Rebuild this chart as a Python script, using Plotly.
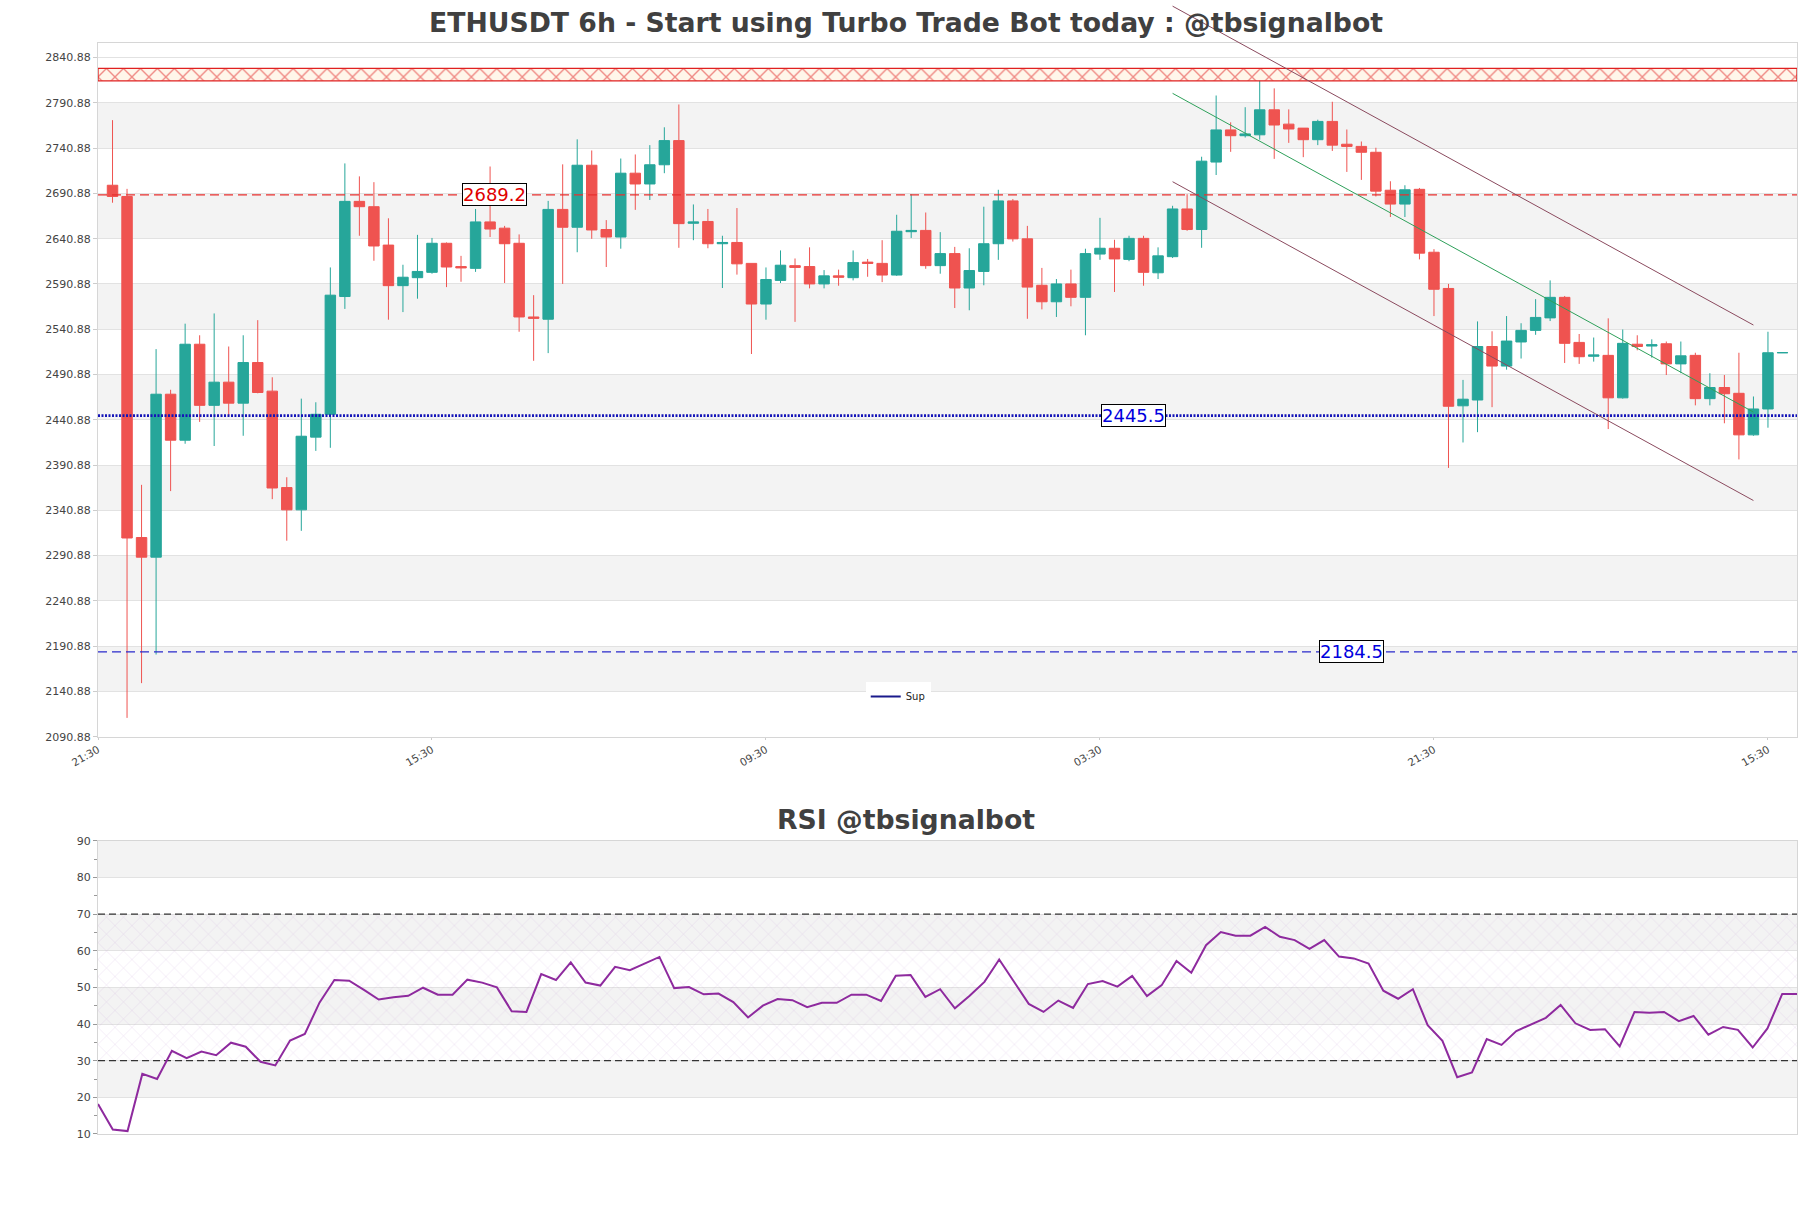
import plotly.graph_objects as go

# ---------------- data ----------------
opens = [2699.9, 2687.5, 2310.8, 2289.1, 2469.1, 2418.3, 2524.3, 2456.8, 2482.4, 2459.2,
         2504.1, 2472.5, 2366.0, 2341.4, 2421.7, 2446.9, 2577.0, 2682.1, 2676.2, 2633.8,
         2589.0, 2597.8, 2603.7, 2635.8, 2610.1, 2608.1, 2659.4, 2652.5, 2635.8, 2554.4,
         2551.9, 2673.2, 2653.5, 2722.0, 2651.0, 2642.7, 2713.2, 2701.3, 2722.5, 2749.2,
         2657.9, 2659.9, 2635.3, 2636.7, 2613.6, 2568.7, 2594.8, 2611.1, 2610.1, 2590.9,
         2599.8, 2597.8, 2615.0, 2613.6, 2600.7, 2648.6, 2650.0, 2611.1, 2624.4, 2586.4,
         2604.7, 2635.3, 2682.6, 2640.7, 2589.4, 2571.2, 2590.9, 2576.1, 2623.9, 2630.3,
         2618.0, 2641.2, 2603.2, 2621.0, 2673.7, 2651.0, 2725.5, 2761.0, 2754.6, 2755.6,
         2783.2, 2767.4, 2763.0, 2750.2, 2770.4, 2745.2, 2742.8, 2736.3, 2694.4, 2679.1,
         2695.4, 2625.9, 2585.9, 2456.3, 2462.7, 2521.8, 2500.2, 2526.8, 2539.6, 2553.4,
         2576.1, 2526.3, 2511.0, 2512.0, 2465.1, 2524.3, 2522.3, 2524.8, 2502.6, 2512.0,
         2464.2, 2476.5, 2470.1, 2424.2, 2452.8, 2514.9]
highs = [2771.8, 2695.9, 2369.0, 2518.9, 2474.0, 2547.0, 2534.2, 2558.3, 2521.8, 2534.2,
         2550.9, 2487.8, 2377.4, 2464.2, 2460.2, 2609.1, 2724.0, 2709.7, 2703.3, 2663.4,
         2612.1, 2645.1, 2641.7, 2636.7, 2621.9, 2673.7, 2720.6, 2655.0, 2645.6, 2578.5,
         2682.6, 2723.0, 2750.6, 2738.3, 2661.4, 2729.4, 2733.9, 2744.2, 2763.9, 2789.1,
         2678.7, 2673.7, 2644.1, 2674.7, 2613.6, 2609.1, 2627.9, 2619.0, 2631.3, 2606.2,
         2606.7, 2627.9, 2618.5, 2639.2, 2667.3, 2690.0, 2669.8, 2648.1, 2631.8, 2630.3,
         2676.2, 2694.9, 2684.6, 2655.0, 2608.6, 2596.3, 2606.7, 2629.8, 2663.9, 2639.7,
         2644.1, 2644.1, 2631.3, 2677.2, 2690.0, 2731.4, 2799.0, 2769.4, 2786.1, 2818.7,
         2806.9, 2783.7, 2763.0, 2772.3, 2792.1, 2761.5, 2748.2, 2741.3, 2704.3, 2699.9,
         2696.9, 2629.3, 2590.9, 2484.9, 2549.5, 2538.6, 2555.4, 2547.5, 2574.1, 2594.8,
         2577.6, 2535.6, 2531.7, 2552.9, 2540.6, 2534.2, 2529.7, 2527.3, 2527.3, 2514.9,
         2492.3, 2490.3, 2514.9, 2466.6, 2538.1, 2515.0]
lows = [2680.6, 2111.6, 2150.0, 2181.6, 2362.1, 2414.4, 2438.5, 2411.9, 2445.9, 2423.2,
        2470.1, 2353.2, 2307.3, 2318.2, 2406.5, 2409.9, 2563.3, 2644.1, 2616.5, 2551.4,
        2559.8, 2574.6, 2602.2, 2587.4, 2593.3, 2604.2, 2642.7, 2591.9, 2538.1, 2506.0,
        2514.5, 2590.9, 2625.9, 2640.7, 2609.6, 2629.8, 2672.7, 2683.6, 2713.2, 2630.8,
        2639.2, 2630.3, 2586.4, 2601.2, 2513.5, 2551.4, 2591.9, 2549.0, 2586.0, 2586.0,
        2588.9, 2594.8, 2598.8, 2592.9, 2599.8, 2641.7, 2607.6, 2602.2, 2564.3, 2561.8,
        2589.4, 2617.5, 2637.7, 2552.4, 2562.8, 2554.4, 2566.2, 2534.2, 2617.5, 2582.0,
        2616.0, 2588.9, 2596.3, 2619.5, 2649.6, 2630.8, 2711.2, 2736.8, 2752.6, 2750.2,
        2729.0, 2746.7, 2730.9, 2744.2, 2737.8, 2714.6, 2705.8, 2687.5, 2664.8, 2664.8,
        2618.0, 2555.4, 2387.7, 2415.8, 2427.2, 2454.8, 2496.2, 2508.5, 2534.7, 2549.9,
        2503.6, 2502.6, 2505.1, 2430.6, 2464.2, 2517.6, 2509.5, 2490.3, 2492.3, 2456.8,
        2456.8, 2437.0, 2397.1, 2423.2, 2432.1, 2514.9]
closes = [2687.5, 2310.3, 2289.1, 2469.1, 2418.3, 2524.3, 2456.8, 2482.4, 2459.2, 2504.1,
          2471.0, 2365.5, 2341.4, 2422.7, 2446.9, 2578.5, 2682.1, 2676.2, 2632.8, 2589.0,
          2598.3, 2604.7, 2635.8, 2609.6, 2608.6, 2659.4, 2651.5, 2635.3, 2554.4, 2552.9,
          2673.2, 2653.5, 2722.0, 2650.5, 2642.7, 2713.2, 2701.3, 2722.5, 2749.2, 2657.5,
          2659.4, 2635.3, 2636.7, 2613.1, 2568.7, 2595.8, 2611.6, 2609.1, 2590.9, 2599.8,
          2598.3, 2614.5, 2613.6, 2600.7, 2649.1, 2650.0, 2611.1, 2624.4, 2586.4, 2605.7,
          2635.3, 2682.6, 2640.7, 2587.4, 2571.2, 2590.9, 2576.1, 2624.4, 2630.3, 2618.5,
          2641.2, 2603.7, 2621.9, 2673.7, 2651.0, 2726.5, 2761.0, 2754.6, 2756.6, 2783.2,
          2766.4, 2762.0, 2750.2, 2770.4, 2744.2, 2742.8, 2736.3, 2693.4, 2679.1, 2694.9,
          2624.9, 2585.0, 2455.8, 2463.6, 2521.8, 2500.2, 2527.8, 2539.6, 2553.9, 2576.1,
          2525.3, 2510.5, 2512.5, 2465.1, 2525.3, 2521.8, 2523.8, 2502.6, 2511.5, 2464.2,
          2476.5, 2469.6, 2424.2, 2452.8, 2514.9, 2515.0]

rsi = [18.2, 11.2, 10.8, 26.4, 25.0, 32.7, 30.7, 32.5, 31.5, 34.9,
       33.8, 29.7, 28.7, 35.5, 37.3, 45.9, 52.0, 51.8, 49.3, 46.7,
       47.3, 47.7, 49.9, 48.0, 48.0, 52.1, 51.3, 50.0, 43.5, 43.3,
       53.6, 52.0, 56.8, 51.3, 50.5, 55.6, 54.7, 56.5, 58.3, 49.8,
       50.1, 48.1, 48.3, 46.0, 41.8, 45.0, 46.8, 46.5, 44.6, 45.8,
       45.8, 48.0, 48.0, 46.3, 53.2, 53.4, 47.4, 49.5, 44.3, 47.7,
       51.5, 57.6, 51.5, 45.5, 43.3, 46.4, 44.4, 50.9, 51.7, 50.2,
       53.1, 47.6, 50.6, 57.2, 54.0, 61.5, 65.1, 64.1, 64.1, 66.5,
       63.8, 62.9, 60.5, 62.9, 58.4, 57.9, 56.5, 49.1, 46.9, 49.5,
       39.7, 35.4, 25.5, 26.8, 35.9, 34.3, 38.1, 40.0, 41.7, 45.2,
       40.2, 38.4, 38.6, 33.9, 43.3, 43.1, 43.3, 40.8, 42.2, 37.1,
       39.2, 38.4, 33.6, 38.8, 48.2, 48.2]

x_tick_idx = [-1, 22, 45, 68, 91, 114]
x_tick_labels = ["21:30", "15:30", "09:30", "03:30", "21:30", "15:30"]
y_ticks = [2090.88 + 50 * k for k in range(16)]
rsi_ticks = [10, 20, 30, 40, 50, 60, 70, 80, 90]

resistance_level = 2689.2
pivot_level = 2445.5
support_level = 2184.5
label_pos = {"2689.2": 26.3, "2445.5": 70.3, "2184.5": 85.3}
zone_low, zone_high = 2815.2, 2829.0
chan_i0, chan_i1 = 73, 113
chan_upper = (2897.7, 2545.5)
chan_mid = (2801.4, 2449.4)
chan_lower = (2703.8, 2351.7)

# ---------------- layout geometry ----------------
W, H = 1811, 1208
ML, MR, MT, MB = 98, 14, 43, 74
main_dom = [0.3642, 1.0]
rsi_dom = [0.0, 0.2688]
n = len(opens)
xr = [-1, n]
yr = [2090.88, 2857.0]

GREEN = "#26a69a"
RED = "#ef5350"
FONT = "DejaVu Sans"
TXT = "#444444"

fig = go.Figure()

# red resistance zone (hatched)
fig.add_trace(go.Scatter(
    x=[xr[0], xr[1], xr[1], xr[0], xr[0]],
    y=[zone_low, zone_low, zone_high, zone_high, zone_low],
    fill="toself", mode="lines",
    line=dict(color="#e02020", width=1.3),
    fillcolor="#fff6ea",
    fillpattern=dict(shape="x", fgcolor="#e02020", bgcolor="#fff6ea", size=12, solidity=0.22),
    showlegend=False, hoverinfo="skip", xaxis="x", yaxis="y"))

# horizontal levels
fig.add_trace(go.Scatter(x=xr, y=[resistance_level] * 2, mode="lines",
                         line=dict(color="#e8302f", width=1.3, dash="9px,5px"),
                         showlegend=False, hoverinfo="skip"))
fig.add_trace(go.Scatter(x=xr, y=[pivot_level] * 2, mode="lines",
                         line=dict(color="#1414b8", width=2.6, dash="2px,1.5px"),
                         showlegend=False, hoverinfo="skip"))
fig.add_trace(go.Scatter(x=xr, y=[support_level] * 2, mode="lines",
                         line=dict(color="#2a2acc", width=1.3, dash="9px,5px"),
                         showlegend=False, hoverinfo="skip"))
fig.add_trace(go.Scatter(x=[None], y=[None], mode="lines", name="Sup",
                         line=dict(color="#1a1a8c", width=2), showlegend=True))

# candles
fig.add_trace(go.Candlestick(
    x=list(range(n)), open=opens, high=highs, low=lows, close=closes,
    increasing=dict(line=dict(color=GREEN, width=1), fillcolor=GREEN),
    decreasing=dict(line=dict(color=RED, width=1), fillcolor=RED),
    whiskerwidth=0, showlegend=False, xaxis="x", yaxis="y"))

# RSI hatched zone and line
rn = len(rsi)
fig.add_trace(go.Scatter(
    x=[0, rn - 1, rn - 1, 0, 0], y=[30, 30, 70, 70, 30],
    fill="toself", mode="lines", line=dict(width=0),
    fillcolor="rgba(0,0,0,0)",
    fillpattern=dict(shape="x", fgcolor="rgba(175,120,200,0.6)", bgcolor="rgba(0,0,0,0)",
                     size=12, solidity=0.07),
    showlegend=False, hoverinfo="skip", xaxis="x2", yaxis="y2"))
for lvl in (70, 30):
    fig.add_trace(go.Scatter(x=[0, rn - 1], y=[lvl, lvl], mode="lines",
                             line=dict(color="#333333", width=1.2, dash="7px,4px"),
                             showlegend=False, hoverinfo="skip", xaxis="x2", yaxis="y2"))
fig.add_trace(go.Scatter(x=list(range(rn)), y=rsi, mode="lines",
                         line=dict(color="#8e2a9e", width=2),
                         showlegend=False, xaxis="x2", yaxis="y2"))

# alternating bands
shapes = []
for k in range(1, len(y_ticks) - 1, 2):
    shapes.append(dict(type="rect", xref="x domain", yref="y", x0=0, x1=1,
                       y0=y_ticks[k], y1=y_ticks[k + 1], fillcolor="#f3f3f3",
                       line=dict(width=0), layer="below"))
for k in range(1, len(rsi_ticks) - 1, 2):
    shapes.append(dict(type="rect", xref="x2 domain", yref="y2", x0=0, x1=1,
                       y0=rsi_ticks[k], y1=rsi_ticks[k + 1], fillcolor="#f3f3f3",
                       line=dict(width=0), layer="below"))


def px(i):
    return (i - xr[0]) / (xr[1] - xr[0])


def py(v):
    return main_dom[0] + (v - yr[0]) / (yr[1] - yr[0]) * (main_dom[1] - main_dom[0])


for (a, b), col in ((chan_upper, "#8a4a5e"), (chan_mid, "#2ea05a"), (chan_lower, "#8a4a5e")):
    shapes.append(dict(type="line", xref="paper", yref="paper",
                       x0=px(chan_i0), x1=px(chan_i1), y0=py(a), y1=py(b),
                       line=dict(color=col, width=1)))

fig_center = (W / 2 - ML) / (W - ML - MR)
annotations = [
    dict(text="<b>ETHUSDT 6h - Start using Turbo Trade Bot today : @tbsignalbot</b>",
         xref="paper", yref="paper", x=fig_center, y=(H - MB - 22) / (H - MT - MB),
         xanchor="center", yanchor="middle", showarrow=False,
         font=dict(family=FONT, size=26.7, color="#404040")),
    dict(text="<b>RSI @tbsignalbot</b>", xref="paper", yref="paper", x=fig_center,
         y=(H - MB - 819) / (H - MT - MB), xanchor="center", yanchor="middle",
         showarrow=False, font=dict(family=FONT, size=26.7, color="#404040")),
]
for val, col in ((resistance_level, "#e00000"), (pivot_level, "#0000dd"), (support_level, "#0000dd")):
    annotations.append(dict(text=f"{val}", x=label_pos[f"{val}"], y=val, xref="x", yref="y",
                            showarrow=False, font=dict(family=FONT, size=18, color=col),
                            bgcolor="white", bordercolor="black", borderwidth=1, borderpad=0))

fig.update_layout(
    width=W, height=H, margin=dict(l=ML, r=MR, t=MT, b=MB),
    paper_bgcolor="white", plot_bgcolor="white",
    font=dict(family=FONT, color=TXT, size=11),
    boxgap=0.28, boxgroupgap=0,
    showlegend=True,
    legend=dict(x=0.471, y=0.401, xanchor="center", yanchor="middle",
                bgcolor="white", font=dict(size=10, color="#222"), itemwidth=30),
    shapes=shapes, annotations=annotations,
    xaxis=dict(domain=[0, 1], anchor="y", range=xr, tickmode="array",
               tickvals=x_tick_idx, ticktext=x_tick_labels, tickangle=-30,
               tickfont=dict(size=10.5, color=TXT), showgrid=False, zeroline=False,
               showline=True, mirror=True, linecolor="#d6d6d6", linewidth=1,
               ticks="outside", ticklen=2, tickcolor="#cccccc",
               rangeslider=dict(visible=False)),
    yaxis=dict(domain=main_dom, anchor="x", range=yr, tickmode="array",
               tickvals=y_ticks, ticktext=[f"{v:.2f}" for v in y_ticks],
               tickfont=dict(size=11, color=TXT), showgrid=True, gridcolor="#e2e2e2",
               zeroline=False, showline=True, mirror=True, linecolor="#d6d6d6",
               ticks="outside", ticklen=4, tickcolor="#cccccc"),
    xaxis2=dict(domain=[0, 1], anchor="y2", range=[0, rn - 1], showticklabels=False,
                showgrid=False, zeroline=False, showline=True, mirror=True,
                linecolor="#d6d6d6", ticks=""),
    yaxis2=dict(domain=rsi_dom, anchor="x2", range=[10, 90], tickmode="array",
                tickvals=rsi_ticks, tickfont=dict(size=11, color=TXT), showgrid=True,
                gridcolor="#e2e2e2", zeroline=False, showline=True, mirror=True,
                linecolor="#d6d6d6", ticks="outside", ticklen=4, tickcolor="#999999",
                minor=dict(ticks="outside", ticklen=3, dtick=5, tick0=5, tickcolor="#999999",
                           showgrid=False)),
)

fig.write_html("out.html")
